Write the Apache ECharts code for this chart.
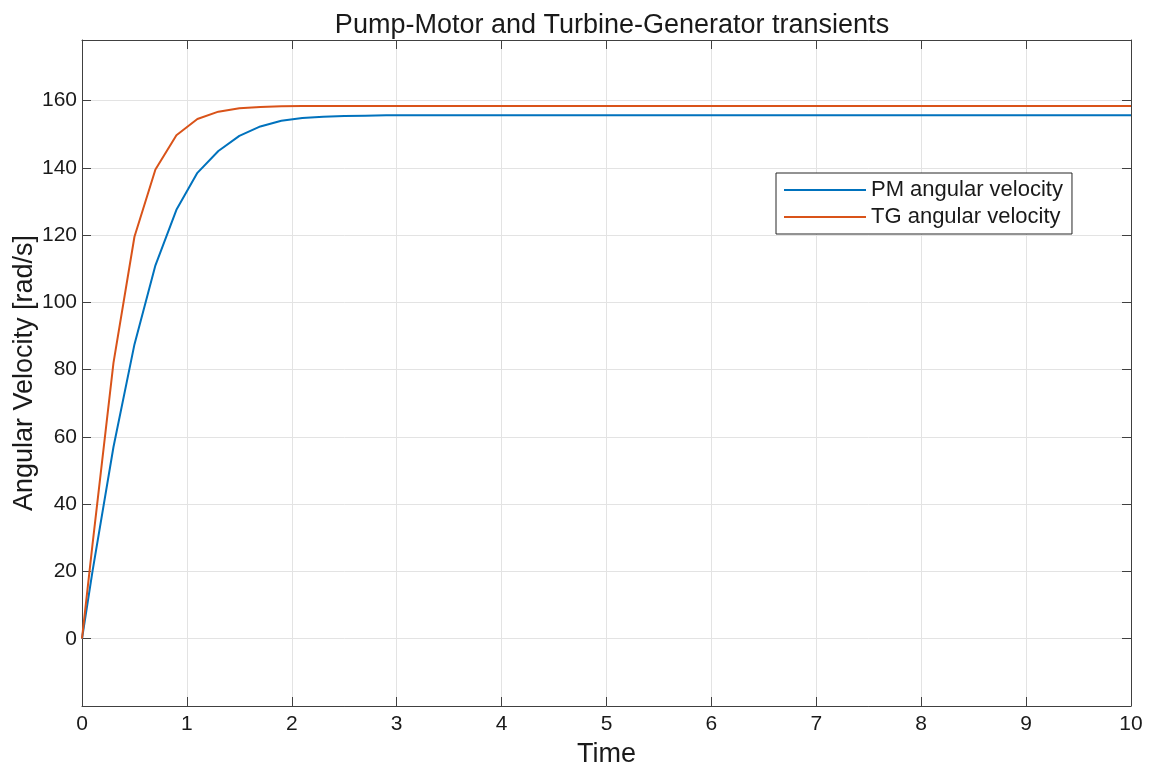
<!DOCTYPE html>
<html lang="en">
<head>
    <meta charset="UTF-8">
    <title>Pump-Motor and Turbine-Generator transients</title>
    <script src="https://cdn.jsdelivr.net/npm/echarts@6/dist/echarts.min.js"></script>
    <style>
        html, body { margin: 0; padding: 0; background: #fff; }
    </style>
</head>
<body>
    <div id="chart" style="width: 1153px; height: 769px;"></div>
    <script>
    // time samples (s)
    var timeData = [0, 0.1, 0.3, 0.5, 0.7, 0.9, 1.1, 1.3, 1.5, 1.7, 1.9, 2.1, 2.3, 2.5, 2.7, 2.9, 3.5, 4, 5, 6, 7, 8, 9, 10];
    // PM angular velocity [rad/s]
    var pmData = [0, 20, 57, 87.5, 111, 127.5, 138.5, 145, 149.5, 152.3, 154, 154.8, 155.2, 155.4, 155.5, 155.6, 155.6, 155.6, 155.6, 155.6, 155.6, 155.6, 155.6, 155.6];
    // TG angular velocity [rad/s]
    var tgData = [0, 28, 82, 119.5, 139.5, 149.7, 154.5, 156.7, 157.7, 158.1, 158.3, 158.4, 158.4, 158.4, 158.4, 158.4, 158.4, 158.4, 158.4, 158.4, 158.4, 158.4, 158.4, 158.4];
    var seriesNames = ['PM angular velocity', 'TG angular velocity'];
    var seriesColors = ['#0072BD', '#D95319'];

    function pairs(xs, ys) {
        var out = [];
        for (var i = 0; i < xs.length; i++) {
            out.push([xs[i], ys[i]]);
        }
        return out;
    }

    var font = '"Liberation Sans", Arial, Helvetica, sans-serif';
    var axisColor = '#404040';
    var textColor = '#1a1a1a';

    // box axes (top / right) only carry inward ticks
    function boxAxis(extra) {
        var a = {
            type: 'value',
            axisLine: { show: true, onZero: false, lineStyle: { color: axisColor, width: 1 } },
            axisTick: { show: true, inside: true, length: 9, lineStyle: { color: axisColor } },
            axisLabel: { show: false },
            splitLine: { show: false }
        };
        for (var k in extra) a[k] = extra[k];
        return a;
    }

    var myChart = echarts.init(document.getElementById('chart'));
    var option = {
        animation: false,
        backgroundColor: '#fff',
        textStyle: { fontFamily: font },
        title: {
            text: 'Pump-Motor and Turbine-Generator transients',
            left: 607,
            textAlign: 'center',
            top: 7,
            textStyle: { fontFamily: font, fontSize: 27, fontWeight: 'normal', color: textColor }
        },
        legend: {
            data: seriesNames,
            orient: 'vertical',
            left: 776,
            top: 173,
            padding: [6, 9, 6, 8],
            itemGap: 5,
            itemWidth: 82,
            itemHeight: 2,
            icon: 'rect',
            backgroundColor: '#fff',
            borderColor: '#262626',
            borderWidth: 1,
            borderRadius: 0,
            textStyle: { fontFamily: font, fontSize: 22, color: textColor }
        },
        grid: {
            left: 82,
            right: 22,
            top: 40,
            bottom: 63,
            containLabel: false,
            outerBoundsMode: 'none'
        },
        xAxis: [{
            type: 'value',
            min: 0,
            max: 10,
            interval: 1,
            name: 'Time',
            nameLocation: 'middle',
            nameGap: 35,
            nameMoveOverlap: false,
            nameTextStyle: { fontFamily: font, fontSize: 27, color: textColor },
            axisLine: { show: true, onZero: false, lineStyle: { color: axisColor, width: 1 } },
            axisTick: { show: true, inside: true, length: 9, lineStyle: { color: axisColor } },
            axisLabel: { fontFamily: font, fontSize: 21, color: textColor, margin: 8 },
            splitLine: { show: true, lineStyle: { color: '#e3e3e3', width: 1 } }
        }, boxAxis({ position: 'top', min: 0, max: 10, interval: 1 })],
        yAxis: [{
            type: 'value',
            min: -20,
            max: 178,
            interval: 20,
            name: 'Angular Velocity [rad/s]',
            nameLocation: 'middle',
            nameGap: 44,
            nameMoveOverlap: false,
            nameTextStyle: { fontFamily: font, fontSize: 27, color: textColor },
            axisLine: { show: true, onZero: false, lineStyle: { color: axisColor, width: 1 } },
            axisTick: { show: true, inside: true, length: 9, lineStyle: { color: axisColor } },
            axisLabel: {
                fontFamily: font,
                fontSize: 21,
                color: textColor,
                margin: 5,
                formatter: function (v) { return (v < 0 || v > 170) ? '' : String(v); }
            },
            splitLine: { show: true, lineStyle: { color: '#e3e3e3', width: 1 } }
        }, boxAxis({ position: 'right', min: -20, max: 178, interval: 20 })],
        series: [{
            name: seriesNames[0],
            type: 'line',
            showSymbol: false,
            symbol: 'none',
            color: seriesColors[0],
            lineStyle: { width: 2, color: seriesColors[0] },
            data: pairs(timeData, pmData)
        }, {
            name: seriesNames[1],
            type: 'line',
            showSymbol: false,
            symbol: 'none',
            color: seriesColors[1],
            lineStyle: { width: 2, color: seriesColors[1] },
            data: pairs(timeData, tgData)
        }]
    };
    myChart.setOption(option);
    </script>
</body>
</html>
